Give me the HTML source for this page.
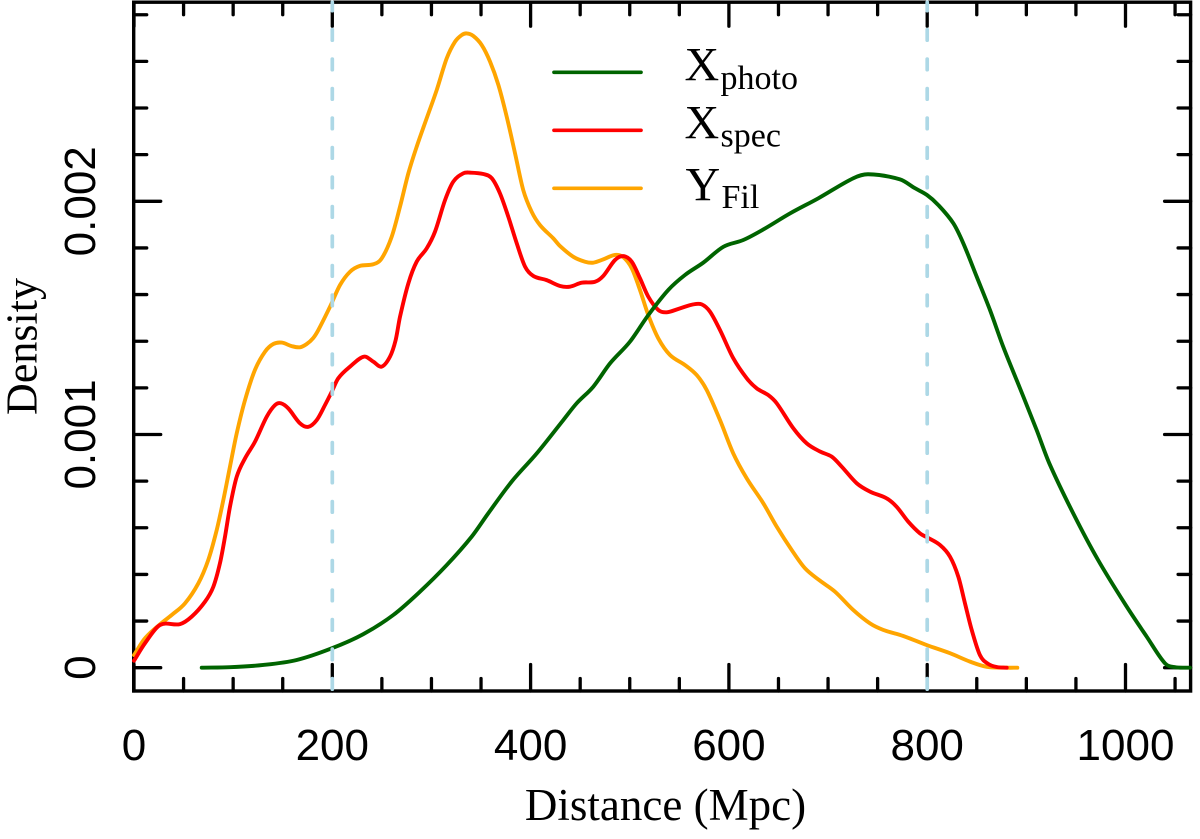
<!DOCTYPE html>
<html>
<head>
<meta charset="utf-8">
<title>Density vs Distance</title>
<style>
html,body{margin:0;padding:0;background:#fff;width:1200px;height:839px;overflow:hidden}
svg{display:block}
.sans{font-family:"Liberation Sans",Arial,sans-serif;fill:#000}
.serif{font-family:"Liberation Serif","Times New Roman",serif;fill:#000}
</style>
</head>
<body>
<svg id="chart" xmlns="http://www.w3.org/2000/svg" width="1200" height="839" viewBox="0 0 1200 839">
<rect x="0" y="0" width="1200" height="839" fill="#fff"/>
<g id="ticks"></g>
<g id="labels"></g>
<rect x="133.7" y="2.2" width="1056.9" height="688.8" fill="none" stroke="#000" stroke-width="3.4"/>
<g id="curves"></g>
<g id="refs"></g>
<text class="serif" x="665.5" y="820" font-size="45" text-anchor="middle">Distance (Mpc)</text>
<text class="serif" transform="translate(36.5,346.5) rotate(-90)" font-size="44" text-anchor="middle">Density</text>
<g>
<line x1="554" x2="641" y1="72.3" y2="72.3" stroke="#006400" stroke-width="3.7" stroke-linecap="round"/>
<line x1="554" x2="641" y1="130.3" y2="130.3" stroke="#ff0000" stroke-width="3.7" stroke-linecap="round"/>
<line x1="554" x2="641" y1="188.3" y2="188.3" stroke="#ffa500" stroke-width="3.7" stroke-linecap="round"/>
<text class="serif" x="684.5" y="80.7" font-size="48">X</text>
<text class="serif" x="720.5" y="89" font-size="34">photo</text>
<text class="serif" x="684.5" y="138.7" font-size="48">X</text>
<text class="serif" x="720.5" y="146.7" font-size="34">spec</text>
<text class="serif" x="685.5" y="200.7" font-size="48">Y</text>
<text class="serif" x="721.5" y="208" font-size="34">Fil</text>
</g>
</svg>
<script>
const xMajorTicks = [0, 200, 400, 600, 800, 1000];
const xMinorTicks = [50, 100, 150, 250, 300, 350, 450, 500, 550, 650, 700, 750, 850, 900, 950, 1050];
const yMajorTicks = [0, 0.001, 0.002];
const yMinorTicks = [0.0002, 0.0004, 0.0006, 0.0008, 0.0012, 0.0014, 0.0016, 0.0018, 0.0022, 0.0024, 0.0026, 0.0028];
const xTickLabels = ["0", "200", "400", "600", "800", "1000"];
const yTickLabels = ["0", "0.001", "0.002"];
const referenceDistances = [200, 800];

const photoDistance = [68.3, 96.8, 130.4, 164.1, 199.4, 231.3, 261.5, 288.4, 315.4, 340.6, 357.3, 380.9, 406.2, 433, 446.5, 463.2, 480.1, 500.2, 518.7, 538.9, 555.7, 574.2, 594.4, 614.5, 635.4, 661.6, 690.2, 725.5, 740.6, 772.6, 787.7, 799.8, 811.2, 826.3, 836.4, 849.9, 863.3, 876.7, 893.6, 910.4, 923.2, 947.6, 972.3, 1001.2, 1021.4, 1039.8, 1049.9, 1065];
const photoDensity = [0, 0.002, 0.0116, 0.033, 0.083, 0.144, 0.226, 0.326, 0.44, 0.562, 0.662, 0.798, 0.919, 1.062, 1.134, 1.205, 1.305, 1.398, 1.512, 1.62, 1.684, 1.737, 1.805, 1.834, 1.881, 1.948, 2.013, 2.099, 2.116, 2.094, 2.056, 2.027, 1.984, 1.906, 1.82, 1.677, 1.534, 1.376, 1.198, 1.019, 0.876, 0.659, 0.462, 0.262, 0.133, 0.019, 0.002, 0];

const specDistance = [0, 11.1, 26.2, 46.4, 58.2, 71.6, 80, 86.7, 91.8, 96.8, 103.6, 112, 122, 133.8, 142.2, 148, 155.6, 167.4, 175.8, 184.3, 192.6, 199.4, 206, 217.9, 232, 241.4, 249.8, 258.2, 263.9, 268.3, 276.7, 285.1, 295.2, 303.6, 313.7, 322, 332.1, 338.9, 352.3, 360.8, 369.1, 377.5, 386, 394.4, 402.7, 416.2, 429.7, 439.7, 451.5, 465, 473.3, 485.1, 493.5, 502, 510.3, 518.7, 528.8, 537.3, 550.7, 564.1, 572.6, 580.9, 591, 604.4, 618, 628, 639.7, 648.2, 664.9, 678.5, 691.9, 703.7, 713.8, 728.9, 742.3, 759.2, 769.2, 780.9, 792.7, 799.8, 812.9, 823, 831.4, 838.1, 844.9, 853.2, 861.6, 870.1, 880.2];
const specDensity = [0.03, 0.105, 0.183, 0.187, 0.219, 0.283, 0.347, 0.448, 0.562, 0.69, 0.819, 0.898, 0.969, 1.076, 1.126, 1.134, 1.112, 1.048, 1.033, 1.062, 1.126, 1.183, 1.241, 1.291, 1.334, 1.312, 1.291, 1.334, 1.405, 1.505, 1.648, 1.741, 1.798, 1.87, 2.005, 2.084, 2.12, 2.123, 2.117, 2.099, 2.034, 1.934, 1.82, 1.72, 1.68, 1.662, 1.637, 1.634, 1.651, 1.655, 1.68, 1.748, 1.765, 1.741, 1.67, 1.591, 1.534, 1.524, 1.541, 1.558, 1.558, 1.527, 1.448, 1.327, 1.241, 1.198, 1.169, 1.134, 1.027, 0.962, 0.927, 0.905, 0.862, 0.791, 0.755, 0.726, 0.69, 0.626, 0.576, 0.559, 0.526, 0.476, 0.39, 0.276, 0.162, 0.054, 0.016, 0.003, 0];

const filDistance = [0, 11.1, 26.2, 38, 51.4, 64.9, 74.9, 83.4, 90.1, 96.8, 103.6, 112, 122, 132.1, 140.5, 149, 159, 167.4, 174.2, 180.8, 185.9, 197.7, 207.8, 217.9, 227.9, 241.4, 249.8, 259.9, 268.3, 276.7, 285.1, 295.2, 305.3, 315.4, 323.7, 330.5, 335.6, 342.2, 350.7, 359.1, 367.5, 375.9, 384.3, 392.6, 401.1, 409.5, 422.9, 429.7, 443.1, 454.9, 463.2, 473.3, 485.1, 493.5, 502, 510.3, 518.7, 528.8, 540.6, 555.7, 567.5, 577.6, 591, 604.4, 618, 634.7, 648.2, 663.3, 676.8, 691.9, 707, 725.5, 742.3, 755.7, 775.9, 799.5, 823, 843.2, 860, 880.2, 890.9];
const filDensity = [0.054, 0.126, 0.186, 0.226, 0.276, 0.362, 0.462, 0.59, 0.719, 0.862, 1.005, 1.148, 1.277, 1.355, 1.388, 1.394, 1.379, 1.374, 1.388, 1.414, 1.448, 1.548, 1.641, 1.698, 1.723, 1.73, 1.755, 1.848, 1.977, 2.12, 2.234, 2.356, 2.477, 2.613, 2.684, 2.713, 2.72, 2.709, 2.67, 2.599, 2.499, 2.363, 2.206, 2.048, 1.955, 1.898, 1.841, 1.808, 1.762, 1.741, 1.737, 1.751, 1.77, 1.76, 1.713, 1.62, 1.512, 1.412, 1.341, 1.298, 1.255, 1.191, 1.062, 0.919, 0.812, 0.705, 0.605, 0.505, 0.426, 0.373, 0.326, 0.247, 0.19, 0.162, 0.136, 0.097, 0.062, 0.026, 0.004, 0, 0];

const SVG_NS = "http://www.w3.org/2000/svg";
const LEFT = 133.7, RIGHT = 1190.6, TOP = 2.2, BOTTOM = 691;
function xScale(v) { return 134 + v * 0.9915; }
function yScale(v) { return 667.7 - v * 233200; }
function yScaleMilli(v) { return 667.7 - v * 233.2; }

function smoothPath(xs, ys) {
  const p = xs.map(function (x, i) { return [xScale(x), yScaleMilli(ys[i])]; });
  const n = p.length;
  const m = p.map(function (pt, i) {
    const a = p[Math.max(i - 1, 0)], b = p[Math.min(i + 1, n - 1)];
    return (b[1] - a[1]) / (b[0] - a[0]);
  });
  let d = "M" + p[0][0].toFixed(2) + " " + p[0][1].toFixed(2);
  for (let i = 0; i < n - 1; i++) {
    const h = (p[i + 1][0] - p[i][0]) / 3;
    d += "C" + (p[i][0] + h).toFixed(2) + " " + (p[i][1] + m[i] * h).toFixed(2) + " " +
      (p[i + 1][0] - h).toFixed(2) + " " + (p[i + 1][1] - m[i + 1] * h).toFixed(2) + " " +
      p[i + 1][0].toFixed(2) + " " + p[i + 1][1].toFixed(2);
  }
  return d;
}

const ticksGroup = document.getElementById("ticks");
const labelsGroup = document.getElementById("labels");
const curvesGroup = document.getElementById("curves");
const refsGroup = document.getElementById("refs");

function addTick(x1, y1, x2, y2, name) {
  const el = document.createElementNS(SVG_NS, "line");
  el.setAttribute("x1", x1);
  el.setAttribute("y1", y1);
  el.setAttribute("x2", x2);
  el.setAttribute("y2", y2);
  el.setAttribute("stroke", "#000");
  el.setAttribute("stroke-width", "3.3");
  el.setAttribute("stroke-linecap", "round");
  
  
  ticksGroup.appendChild(el);
}

xMinorTicks.forEach(function (v) {
  addTick(xScale(v), BOTTOM, xScale(v), BOTTOM - 12.5, "x-minor-tick");
  addTick(xScale(v), TOP, xScale(v), TOP + 12.5, "x-top-minor-tick");
});
xMajorTicks.forEach(function (v) {
  addTick(xScale(v), BOTTOM, xScale(v), BOTTOM - 26.5, "x-major-tick");
  addTick(xScale(v), TOP, xScale(v), TOP + 24, "x-top-major-tick");
});
yMinorTicks.forEach(function (v) {
  addTick(LEFT, yScale(v), LEFT + 13, yScale(v), "y-minor-tick");
  addTick(RIGHT, yScale(v), RIGHT - 12.5, yScale(v), "y-right-minor-tick");
});
yMajorTicks.forEach(function (v) {
  addTick(LEFT, yScale(v), LEFT + 27, yScale(v), "y-major-tick");
  addTick(RIGHT, yScale(v), RIGHT - 26, yScale(v), "y-right-major-tick");
});

xMajorTicks.forEach(function (v, i) {
  const el = document.createElementNS(SVG_NS, "text");
  el.setAttribute("x", xScale(v));
  el.setAttribute("y", 760);
  el.setAttribute("class", "sans");
  el.setAttribute("font-size", "44");
  el.setAttribute("text-anchor", "middle");
  el.textContent = xTickLabels[i];
  
  
  labelsGroup.appendChild(el);
});
yMajorTicks.forEach(function (v, i) {
  const el = document.createElementNS(SVG_NS, "text");
  el.setAttribute("transform", "translate(95," + yScale(v) + ") rotate(-90)");
  el.setAttribute("class", "sans");
  el.setAttribute("font-size", "44");
  el.setAttribute("text-anchor", "middle");
  el.textContent = yTickLabels[i];
  
  
  labelsGroup.appendChild(el);
});

function addCurve(xs, ys, color, name) {
  const el = document.createElementNS(SVG_NS, "path");
  el.setAttribute("d", smoothPath(xs, ys));
  el.setAttribute("fill", "none");
  el.setAttribute("stroke", color);
  el.setAttribute("stroke-width", "3.9");
  el.setAttribute("stroke-linejoin", "round");
  el.setAttribute("stroke-linecap", "round");
  
  
  curvesGroup.appendChild(el);
}
addCurve(filDistance, filDensity, "#ffa500", "curve-yfil");
addCurve(specDistance, specDensity, "#ff0000", "curve-xspec");
addCurve(photoDistance, photoDensity, "#006400", "curve-xphoto");

referenceDistances.forEach(function (v) {
  const el = document.createElementNS(SVG_NS, "line");
  el.setAttribute("x1", xScale(v));
  el.setAttribute("x2", xScale(v));
  el.setAttribute("y1", BOTTOM - 1.8);
  el.setAttribute("y2", TOP);
  el.setAttribute("stroke", "#add8e6");
  el.setAttribute("stroke-width", "3.7");
  el.setAttribute("stroke-linecap", "round");
  el.setAttribute("stroke-dasharray", "10.6 18.9");
  
  
  refsGroup.appendChild(el);
});
</script>
</body>
</html>
